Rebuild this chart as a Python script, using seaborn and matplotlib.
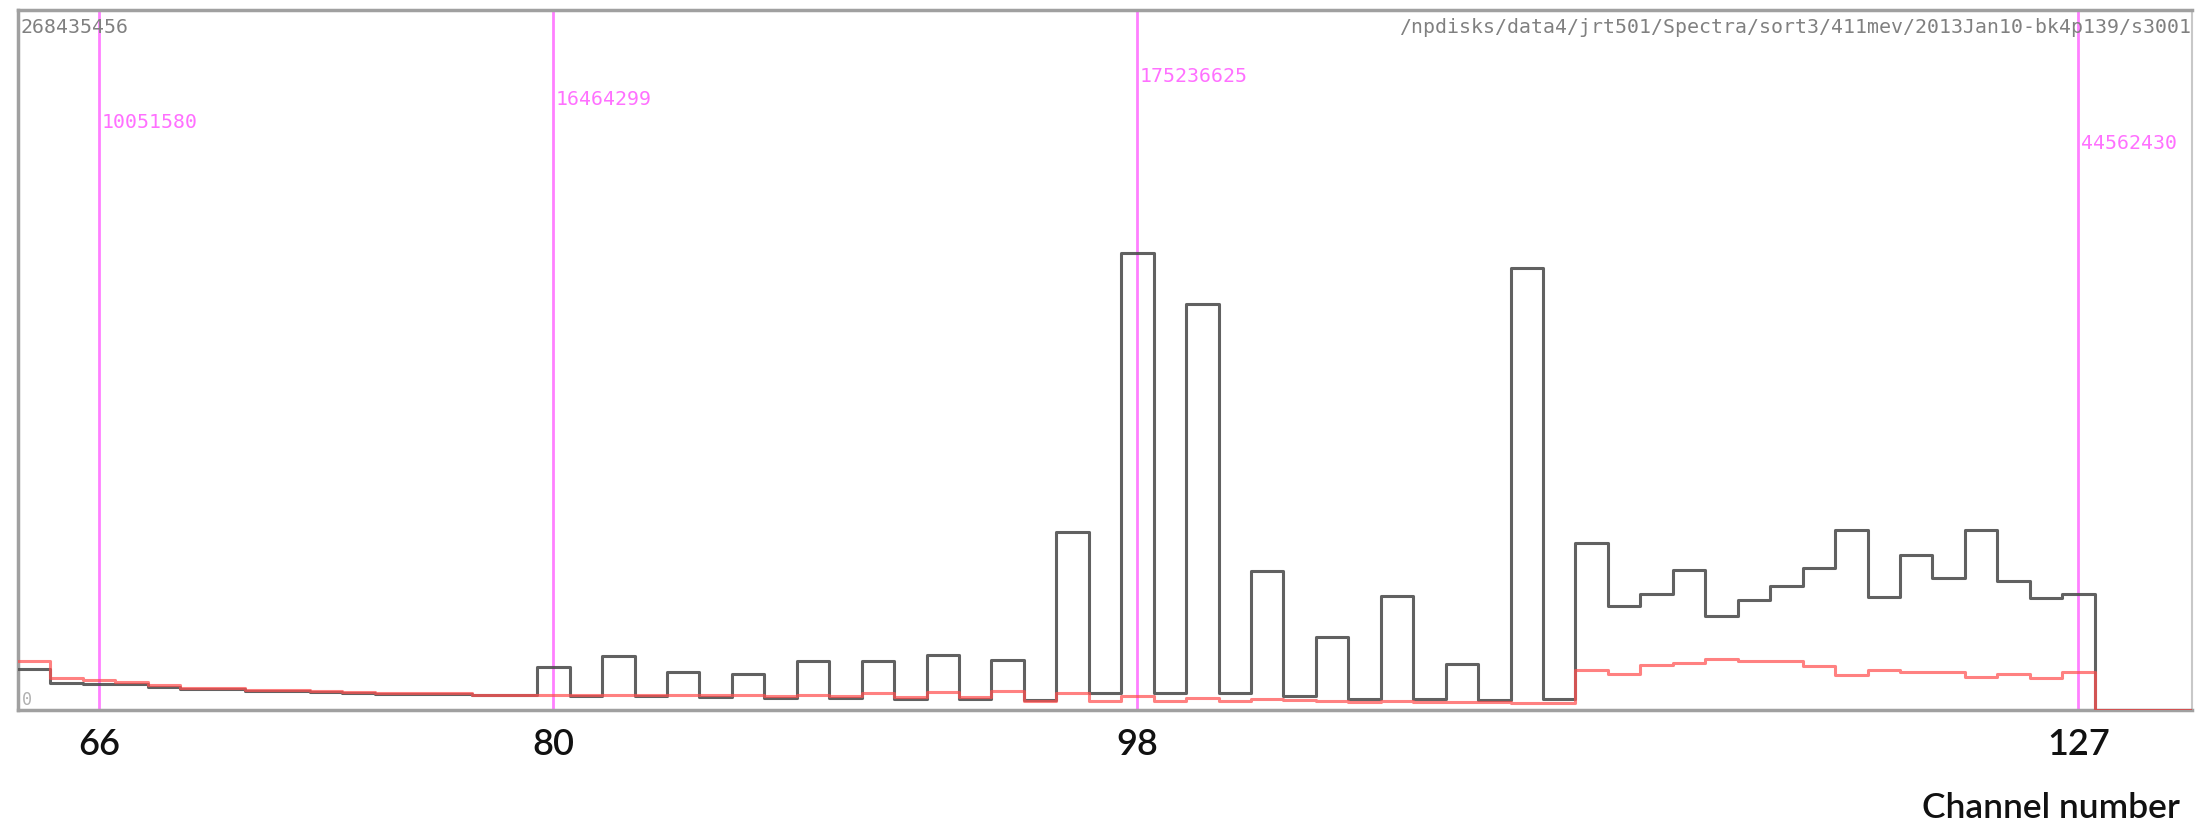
import numpy as np
import pandas as pd
import seaborn as sns
import matplotlib
matplotlib.use("Agg")
import matplotlib.pyplot as plt

# ---------------- data (counts in millions) ----------------
channels = list(range(64, 131))
black_counts_M = [
    15.7, 10.4, 10.05, 9.9, 9.0, 8.0, 7.9, 7.4, 7.4, 6.9,      # 64-73
    6.6, 6.2, 6.2, 6.2, 5.6, 5.6, 16.46, 5.4, 20.8, 5.4,       # 74-83
    14.7, 5.0, 13.8, 4.6, 18.6, 4.6, 18.6, 4.2, 21.1, 4.2,     # 84-93
    19.0, 3.8, 68.1, 6.5, 175.24, 6.5, 155.7, 6.5, 53.4, 5.5,  # 94-103
    27.9, 4.2, 43.8, 4.2, 17.6, 3.8, 169.6, 4.2, 64.0, 40.0,   # 104-113
    44.3, 53.7, 36.2, 42.3, 47.4, 54.3, 69.0, 43.2, 59.6, 50.5, # 114-123
    69.0, 49.6, 42.8, 44.56, 0.0, 0.0, 0.0,                    # 124-130
]
red_counts_M = [
    18.7, 12.3, 11.6, 10.9, 9.6, 8.3, 8.3, 7.7, 7.7, 7.2,      # 64-73
    7.0, 6.4, 6.4, 6.4, 5.7, 5.7, 5.6, 5.8, 5.8, 5.8,          # 74-83
    5.6, 5.6, 5.6, 5.3, 5.6, 5.3, 6.5, 4.8, 6.8, 4.8,          # 84-93
    7.4, 3.6, 6.6, 3.6, 5.5, 3.6, 4.5, 3.6, 4.3, 3.9,          # 94-103
    3.6, 3.0, 3.6, 3.2, 3.2, 3.0, 2.7, 2.7, 15.5, 13.8,        # 104-113
    17.4, 18.0, 19.6, 18.9, 18.9, 16.8, 13.6, 15.5, 14.7, 14.7, # 114-123
    12.5, 13.8, 12.3, 14.4, 0.0, 0.0, 0.0,                     # 124-130
]
marker_channels = [66, 80, 98, 127]
marker_labels = ["10051580", "16464299", "175236625", "44562430"]
marker_label_y = [0.841, 0.874, 0.907, 0.811]   # axes-fraction heights
tick_labels = ["66", "80", "98", "127"]
y_max = 268435456
y_max_label = "268435456"
y_min_label = "0"
path_label = "/npdisks/data4/jrt501/Spectra/sort3/411mev/2013Jan10-bk4p139/s3001"
x_title = "Channel number"

df = pd.DataFrame({
    "channel": channels,
    "black": np.array(black_counts_M) * 1e6,
    "red": np.array(red_counts_M) * 1e6,
})

# ---------------- figure ----------------
sns.set_theme(style="white")
plt.rcParams["font.family"] = ["Lato", "DejaVu Sans"]

fig = plt.figure(figsize=(21.95, 8.28), dpi=100)
ax = fig.add_axes([18 / 2195, 117 / 828, (2192 - 18) / 2195, (711 - 11) / 828])

sns.histplot(data=df, x="channel", weights="black", discrete=True, element="step",
             fill=False, color="#505050", linewidth=2.2, alpha=0.9, ax=ax, zorder=3)
sns.histplot(data=df, x="channel", weights="red", discrete=True, element="step",
             fill=False, color="#ff5050", alpha=0.72, linewidth=2.2, ax=ax, zorder=4)

mono = "DejaVu Sans Mono"
for ch, lab, ly in zip(marker_channels, marker_labels, marker_label_y):
    ax.axvline(ch, color="#ff80ff", linewidth=2, zorder=0.5)
    ax.text(ch + 0.08, ly, lab, transform=ax.get_xaxis_transform(),
            color="#ff70ff", fontsize=14.3, family=mono,
            va="center", ha="left")

ax.set_xlim(channels[0] - 0.5, channels[-1] + 0.5)
ax.set_ylim(0, y_max)
ax.set_xticks(marker_channels)
ax.set_xticklabels(tick_labels, fontsize=26, color="#111111", fontweight="semibold")
ax.set_yticks([])
ax.tick_params(axis="x", length=0, pad=12)
ax.set_xlabel("")
ax.set_ylabel("")

ax.text(0.001, 0.977, y_max_label, transform=ax.transAxes, color="#808080",
        fontsize=14.3, family=mono, va="center", ha="left")
ax.text(0.002, 0.016, y_min_label, transform=ax.transAxes, color="#b0b0b0",
        fontsize=12, family=mono, va="center", ha="left")
ax.text(0.9995, 0.977, path_label, transform=ax.transAxes, color="#808080",
        fontsize=14.3, family=mono, va="center", ha="right")

for side, sp in ax.spines.items():
    sp.set_visible(True)
    sp.set_color("#a0a0a0")
    sp.set_linewidth(2.5)
    sp.set_zorder(1)
ax.spines["right"].set_linewidth(1.5)
ax.spines["right"].set_color("#c8c8c8")

fig.text(2180 / 2195, 20 / 828, x_title, fontsize=25.5, ha="right", va="center",
         color="#111111", fontweight="semibold")

fig.savefig("out.png", dpi=100, facecolor="white")
